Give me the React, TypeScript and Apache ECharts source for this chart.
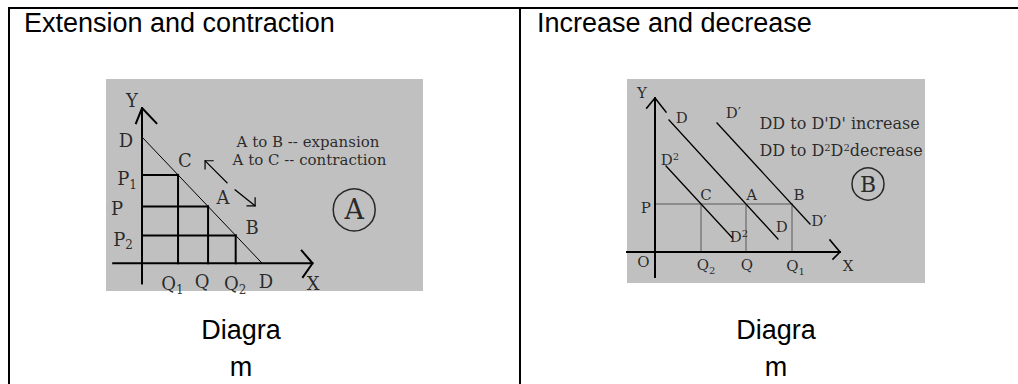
import React, { useEffect, useRef } from "react";
import * as echarts from "echarts";

// ---------- Panel A: extension and contraction (data units) ----------
const aDemand = [[0, 10], [10, 0]];
const aPrices = [7, 4.5, 2.2]; // P1, P, P2
const aQuantities = [3, 5.5, 7.8]; // Q1, Q, Q2 (points on the demand line)
const aXAxis = [[-2.4, 0], [14.2, 0]];
const aXArrow = [[13.3, 1.0], [14.2, 0], [13.4, -1.1]];
const aYAxis = [[0, -1.6], [0, 12.3]];
const aYArrow = [[-0.5, 11.1], [0, 12.3], [1.2, 11.1]];
const aArrowToC = [[7.08, 6.37], [5.25, 8.12]];
const aArrowToCHead = [[5.92, 8.12], [5.25, 8.12], [5.25, 7.48]];
const aArrowToB = [[7.75, 5.82], [9.42, 4.55]];
const aArrowToBHead = [[8.75, 4.55], [9.42, 4.55], [9.42, 5.18]];
const aLabels = [
  { text: "{m|Y}", at: [-0.83, 12.96] },
  { text: "{m|D}", at: [-1.33, 9.79] },
  { text: "{m|P}{s|1}", at: [-1.25, 6.77] },
  { text: "{m|C}", at: [3.58, 8.2] },
  { text: "{m|A}", at: [6.75, 5.25] },
  { text: "{m|P}", at: [-2.08, 4.39] },
  { text: "{m|B}", at: [9.17, 2.88] },
  { text: "{m|P}{s|2}", at: [-1.58, 2.0] },
  { text: "{m|Q}{s|1}", at: [2.54, -1.56] },
  { text: "{m|Q}", at: [5.0, -1.4] },
  { text: "{m|Q}{s|2}", at: [7.75, -1.56] },
  { text: "{m|D}", at: [10.33, -1.33] },
  { text: "{m|X}", at: [14.25, -1.56] },
];
const aNotes = [
  { text: "A to B -- expansion", at: [7.83, 9.62] },
  { text: "A to C -- contraction", at: [7.5, 8.18] },
];
const aBadge = { text: "A", at: [17.67, 4.23] };

// ---------- Panel B: increase and decrease ----------
const bPrice = 4.8;
const bQuantities = [4.6, 9.1, 13.7]; // Q2, Q, Q1
const bCurveD2 = [[1.1, 8.6], [7.7, 1.45]];
const bCurveD = [[1.4, 13.2], [12.3, 1.3]];
const bCurveD1 = [[6.2, 12.9], [15.5, 2.8]];
const bXAxis = [[-2.8, 0], [18.5, 0]];
const bXArrow = [[17.5, 1.2], [18.5, 0], [17.8, -0.7]];
const bYAxis = [[0, -2.5], [0, 15.4]];
const bYArrow = [[-0.83, 14.4], [0, 15.4], [1.1, 14.0]];
const bLabels = [
  { text: "{m|Y}", at: [-1.3, 15.9] },
  { text: "{m|D}", at: [2.67, 13.4] },
  { text: "{m|D′}", at: [7.85, 13.85] },
  { text: "{b|D}{p|2}", at: [1.5, 9.3] },
  { text: "{m|C}", at: [5.1, 5.7] },
  { text: "{m|A}", at: [9.67, 5.7] },
  { text: "{m|B}", at: [14.4, 5.7] },
  { text: "{m|P}", at: [-0.93, 4.37] },
  { text: "{m|D′}", at: [16.4, 3.05] },
  { text: "{m|D}", at: [12.67, 2.45] },
  { text: "{b|D}{p|2}", at: [8.4, 1.6] },
  { text: "{m|O}", at: [-1.17, -1.07] },
  { text: "{m|Q}{s|2}", at: [5.1, -1.3] },
  { text: "{m|Q}", at: [9.2, -1.3] },
  { text: "{m|Q}{s|1}", at: [14.05, -1.4] },
  { text: "{m|X}", at: [19.3, -1.4] },
];
const bNotes = [
  { text: "{t|DD to D'D' increase}", at: [10.4, 12.9] },
  { text: "{t|DD to D}{p|2}{t|D}{p|2}{t|decrease}", at: [10.4, 10.2] },
];
const bBadge = { text: "B", at: [21.3, 6.8] };

// ---------- Table texts ----------
const headers = ["Extension and contraction", "Increase and decrease"];
const captionLines = ["Diagra", "m"];

const SERIF = "DejaVu Serif";

function seg(data: number[][], gi: number, color: string, width: number) {
  return {
    type: "line",
    xAxisIndex: gi,
    yAxisIndex: gi,
    data,
    symbol: "none",
    silent: true,
    z: 3,
    lineStyle: { color, width, cap: "square" },
  };
}

function labels(gi: number, items: { text: string; at: number[] }[], rich: any, position = "inside", fontSize = 16) {
  return {
    type: "scatter",
    xAxisIndex: gi,
    yAxisIndex: gi,
    symbolSize: 1,
    silent: true,
    clip: false,
    z: 4,
    itemStyle: { color: "rgba(0,0,0,0)" },
    label: {
      show: true,
      position,
      distance: 0,
      color: "#000",
      fontFamily: SERIF,
      fontSize,
      lineHeight: fontSize,
      formatter: (p: any) => p.data.name,
      rich,
    },
    data: items.map((it) => ({ name: it.text, value: it.at })),
  };
}

function badge(gi: number, b: { text: string; at: number[] }, size: number, fontSize: number) {
  return {
    type: "scatter",
    xAxisIndex: gi,
    yAxisIndex: gi,
    symbol: "circle",
    symbolSize: size,
    silent: true,
    z: 4,
    itemStyle: { color: "rgba(0,0,0,0)", borderColor: "#000", borderWidth: 1.5 },
    label: {
      show: true,
      position: "inside",
      color: "#000",
      fontFamily: SERIF,
      fontSize,
      formatter: b.text,
    },
    data: [{ value: b.at }],
  };
}

const richA = {
  m: { fontSize: 18, fontFamily: SERIF, color: "#000", verticalAlign: "top" },
  s: { fontSize: 12, fontFamily: SERIF, color: "#000", verticalAlign: "top", padding: [9, 0, 0, 0] },
};
const richB = {
  m: { fontSize: 15, fontFamily: SERIF, color: "#000", verticalAlign: "top" },
  b: { fontSize: 15, fontFamily: SERIF, color: "#000", verticalAlign: "bottom" },
  s: { fontSize: 10, fontFamily: SERIF, color: "#000", verticalAlign: "top", padding: [8, 0, 0, 0] },
  p: { fontSize: 10, fontFamily: SERIF, color: "#000", verticalAlign: "top", padding: [0, 0, 8, 0] },
  t: { fontSize: 16, fontFamily: SERIF, color: "#000", verticalAlign: "bottom" },
};

function buildOption() {
  const series: any[] = [];
  // Panel A
  series.push(seg(aXAxis, 0, "#000", 2));
  series.push(seg(aXArrow, 0, "#000", 2));
  series.push(seg(aYAxis, 0, "#000", 2));
  series.push(seg(aYArrow, 0, "#000", 2));
  aPrices.forEach((p, i) => {
    const q = aQuantities[i];
    series.push(seg([[0, p], [q, p]], 0, "#000", 2));
    series.push(seg([[q, 0], [q, p]], 0, "#000", 2));
  });
  series.push(seg(aDemand, 0, "#000", 1));
  series.push(seg(aArrowToC, 0, "#000", 1.2));
  series.push(seg(aArrowToCHead, 0, "#000", 1.2));
  series.push(seg(aArrowToB, 0, "#000", 1.2));
  series.push(seg(aArrowToBHead, 0, "#000", 1.2));
  series.push(labels(0, aLabels, richA));
  series.push(labels(0, aNotes, undefined, "right", 15));
  series.push(badge(0, aBadge, 42, 27));

  // Panel B
  series.push(seg([[0, bPrice], [bQuantities[2], bPrice]], 1, "#8c8c8c", 2));
  bQuantities.forEach((q) => series.push(seg([[q, 0], [q, bPrice]], 1, "#8c8c8c", 2)));
  series.push(seg(bXAxis, 1, "#000", 2));
  series.push(seg(bXArrow, 1, "#000", 1.6));
  series.push(seg(bYAxis, 1, "#000", 2));
  series.push(seg(bYArrow, 1, "#000", 1.6));
  series.push(seg(bCurveD2, 1, "#000", 1.3));
  series.push(seg(bCurveD, 1, "#000", 1.3));
  series.push(seg(bCurveD1, 1, "#000", 1.3));
  series.push(labels(1, bLabels, richB));
  series.push(labels(1, bNotes, richB, "right"));
  series.push(badge(1, bBadge, 32, 22));

  const headerFont = { fontSize: 27, fontFamily: "Liberation Sans", fill: "#000" };
  const graphic: any[] = [
    { type: "line", shape: { x1: 8, y1: 8, x2: 1018, y2: 8 }, style: { stroke: "#000", lineWidth: 2 } },
    { type: "line", shape: { x1: 9, y1: 7, x2: 9, y2: 384 }, style: { stroke: "#000", lineWidth: 2 } },
    { type: "line", shape: { x1: 520, y1: 7, x2: 520, y2: 384 }, style: { stroke: "#000", lineWidth: 2 } },
    { type: "text", x: 24, y: 23, style: { ...headerFont, text: headers[0], textAlign: "left", textVerticalAlign: "middle" } },
    { type: "text", x: 537, y: 23, style: { ...headerFont, text: headers[1], textAlign: "left", textVerticalAlign: "middle" } },
    { type: "text", x: 241, y: 330, style: { ...headerFont, text: captionLines[0], textAlign: "center", textVerticalAlign: "middle" } },
    { type: "text", x: 241, y: 367, style: { ...headerFont, text: captionLines[1], textAlign: "center", textVerticalAlign: "middle" } },
    { type: "text", x: 776, y: 330, style: { ...headerFont, text: captionLines[0], textAlign: "center", textVerticalAlign: "middle" } },
    { type: "text", x: 776, y: 367, style: { ...headerFont, text: captionLines[1], textAlign: "center", textVerticalAlign: "middle" } },
  ];

  return {
    animation: false,
    grid: [
      { left: 106, top: 79, width: 317, height: 212, show: true, backgroundColor: "#c0c0c0", borderWidth: 0 },
      { left: 627, top: 79, width: 298, height: 204, show: true, backgroundColor: "#c0c0c0", borderWidth: 0 },
    ],
    xAxis: [
      { type: "value", gridIndex: 0, min: -3, max: 23.4, show: false },
      { type: "value", gridIndex: 1, min: -2.8, max: 27.0, show: false },
    ],
    yAxis: [
      { type: "value", gridIndex: 0, min: -2.2, max: 14.6, show: false },
      { type: "value", gridIndex: 1, min: -3.1, max: 17.3, show: false },
    ],
    graphic,
    series,
  };
}

export default function App() {
  const ref = useRef<HTMLDivElement>(null);
  useEffect(() => {
    const chart = echarts.init(ref.current!, null, { renderer: "svg" });
    chart.setOption(buildOption() as any);
    return () => chart.dispose();
  }, []);
  return (
    <div
      ref={ref}
      style={{ position: "absolute", left: 0, top: 0, width: 1018, height: 384, background: "#fff" }}
    />
  );
}
